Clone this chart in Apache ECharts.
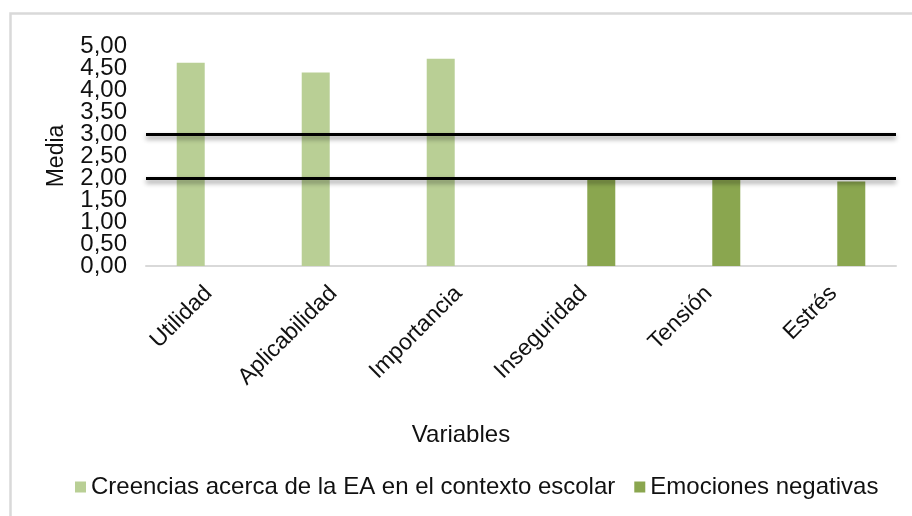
<!DOCTYPE html>
<html>
<head>
<meta charset="utf-8">
<script src="https://cdn.jsdelivr.net/npm/echarts@6/dist/echarts.min.js"></script>
<style>
html,body{margin:0;padding:0;background:#fff;}
#chart{width:912px;height:516px;}
</style>
</head>
<body>
<div id="chart"></div>
<script>
const categories = ['Utilidad', 'Aplicabilidad', 'Importancia', 'Inseguridad', 'Tensión', 'Estrés'];
const seriesNames = ['Creencias acerca de la EA en el contexto escolar', 'Emociones negativas'];
const creencias = [4.62, 4.40, 4.71, '-', '-', '-'];
const emociones = ['-', '-', '-', 1.98, 1.97, 1.92];
const referenceLines = [3, 2];
const yMin = 0, yMax = 5, yInterval = 0.5;

const FONT = '"Liberation Sans", Arial, sans-serif';
const chart = echarts.init(document.getElementById('chart'));

const lineStyleRef = {
  color: '#000',
  width: 3,
  type: 'solid',
  shadowColor: 'rgba(0,0,0,0.45)',
  shadowBlur: 5,
  shadowOffsetY: 3
};

const fmt = v => v.toFixed(2).replace('.', ',');
const yLabelBase = { margin: 19, fontFamily: FONT, fontSize: 24, color: '#111', padding: [0, 0, 6, 0], formatter: fmt };

chart.setOption({
  animation: false,
  backgroundColor: '#fff',
  textStyle: { fontFamily: FONT },
  graphic: [{
    type: 'rect',
    shape: { x: 10.5, y: 13.5, width: 1000, height: 1000 },
    style: { fill: 'none', stroke: '#d9d9d9', lineWidth: 2.5 },
    silent: true
  }],
  title: {
    text: 'Variables',
    left: 461,
    textAlign: 'center',
    top: 423,
    padding: 0,
    textStyle: { fontFamily: FONT, fontSize: 24, fontWeight: 'normal', color: '#111' }
  },
  legend: {
    data: seriesNames,
    left: 70,
    top: 470,
    itemWidth: 11,
    itemHeight: 11,
    itemGap: 19,
    icon: 'rect',
    textStyle: { fontFamily: FONT, fontSize: 24, color: '#111' }
  },
  grid: { left: 146, right: 16, top: 46, bottom: 250, containLabel: false },
  xAxis: {
    type: 'category',
    data: categories,
    axisLine: { show: true, lineStyle: { color: '#d9d9d9', width: 2 } },
    axisTick: { show: false },
    axisLabel: {
      rotate: 45,
      interval: 0,
      margin: 24,
      fontFamily: FONT,
      fontSize: 23,
      color: '#111'
    }
  },
  yAxis: [
    {
      type: 'value',
      min: yMin,
      max: yMax,
      interval: yInterval,
      name: 'Media',
      nameLocation: 'middle',
      nameGap: 78,
      nameRotate: 90,
      nameTextStyle: { fontFamily: FONT, fontSize: 23, color: '#111' },
      axisLine: { show: false },
      axisTick: { show: false },
      splitLine: { show: false },
      axisLabel: Object.assign({}, yLabelBase, { showMinLabel: false, showMaxLabel: false })
    },
    {
      type: 'value',
      position: 'left',
      offset: 0,
      min: yMin,
      max: yMax,
      interval: yMax - yMin,
      axisLine: { show: false },
      axisTick: { show: false },
      splitLine: { show: false },
      axisLabel: Object.assign({}, yLabelBase, { showMinLabel: true, showMaxLabel: true })
    }
  ],
  series: [
    {
      name: seriesNames[0],
      type: 'bar',
      data: creencias,
      barWidth: 28,
      barGap: '27%',
      yAxisIndex: 0,
      itemStyle: { color: '#b9cf95' },
      markLine: {
        silent: true,
        symbol: 'none',
        label: { show: false },
        lineStyle: lineStyleRef,
        data: referenceLines.map(v => ({ yAxis: v }))
      },
      z: 2
    },
    {
      name: seriesNames[1],
      type: 'bar',
      data: emociones,
      barWidth: 28,
      barGap: '27%',
      yAxisIndex: 0,
      itemStyle: { color: '#8aa64f' },
      z: 2
    }
  ]
});
</script>
</body>
</html>
